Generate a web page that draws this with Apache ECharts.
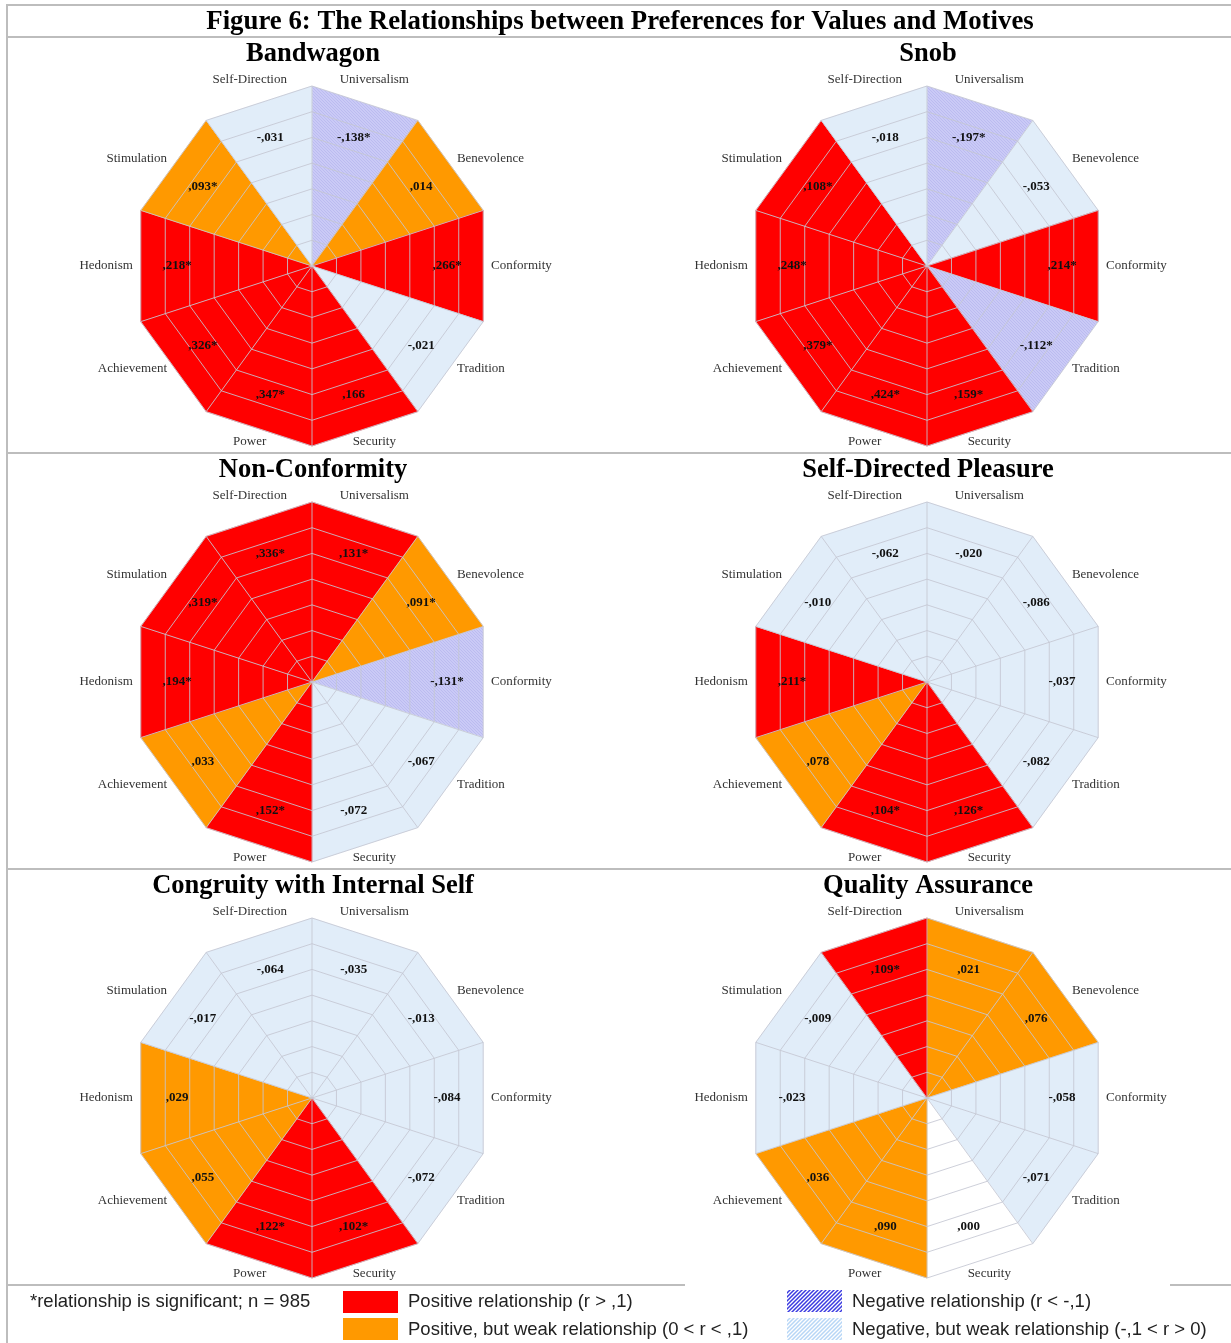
<!DOCTYPE html>
<html><head><meta charset="utf-8">
<script src="https://cdn.jsdelivr.net/npm/echarts@6/dist/echarts.min.js"></script>
<style>html,body{margin:0;padding:0;background:#fff}#c{width:1231px;height:1343px}</style>
</head><body><div id="c"></div>
<script>
// Categories, clockwise from the top vertex
const categories = ['Universalism','Benevolence','Conformity','Tradition','Security','Power','Achievement','Hedonism','Stimulation','Self-Direction'];

const figureTitle = 'Figure 6: The Relationships between Preferences for Values and Motives';
const panelTitles = ['Bandwagon','Snob','Non-Conformity','Self-Directed Pleasure','Congruity with Internal Self','Quality Assurance'];

// correlation values (same order as categories)
const bandwagonValues = [-0.138, 0.014, 0.266, -0.021, 0.166, 0.347, 0.326, 0.218, 0.093, -0.031];
const bandwagonSig    = [1, 0, 1, 0, 0, 1, 1, 1, 1, 0];
const snobValues = [-0.197, -0.053, 0.214, -0.112, 0.159, 0.424, 0.379, 0.248, 0.108, -0.018];
const snobSig    = [1, 0, 1, 1, 1, 1, 1, 1, 1, 0];
const nonConformityValues = [0.131, 0.091, -0.131, -0.067, -0.072, 0.152, 0.033, 0.194, 0.319, 0.336];
const nonConformitySig    = [1, 1, 1, 0, 0, 1, 0, 1, 1, 1];
const selfDirectedPleasureValues = [-0.020, -0.086, -0.037, -0.082, 0.126, 0.104, 0.078, 0.211, -0.010, -0.062];
const selfDirectedPleasureSig    = [0, 0, 0, 0, 1, 1, 0, 1, 0, 0];
const congruityValues = [-0.035, -0.013, -0.084, -0.072, 0.102, 0.122, 0.055, 0.029, -0.017, -0.064];
const congruitySig    = [0, 0, 0, 0, 1, 1, 0, 0, 0, 0];
const qualityAssuranceValues = [0.021, 0.076, -0.058, -0.071, 0.000, 0.090, 0.036, -0.023, -0.009, 0.109];
const qualityAssuranceSig    = [0, 0, 0, 0, 0, 0, 0, 0, 0, 1];

const legendNote = '*relationship is significant; n = 985';
const legendLabels = ['Positive relationship (r > ,1)', 'Positive, but weak relationship (0 < r < ,1)', 'Negative relationship (r < -,1)', 'Negative, but weak relationship (-,1 < r > 0)'];

const panelValues = [bandwagonValues, snobValues, nonConformityValues, selfDirectedPleasureValues, congruityValues, qualityAssuranceValues];
const panelSig = [bandwagonSig, snobSig, nonConformitySig, selfDirectedPleasureSig, congruitySig, qualityAssuranceSig];

// ---------- style / layout ----------
const colX = [312, 927], rowY = [266, 682, 1098], R = 180, ringCount = 7;
const serif = '"Liberation Serif","Times New Roman",serif';
const sans = '"Liberation Sans",Arial,sans-serif';
const RED = '#ff0000', ORANGE = '#ff9900', PALE = '#e1edf9';
const GRID = 'rgba(196,199,210,0.85)';

function hatch(bg, line, size, lw, dir) {
  const c = document.createElement('canvas'); c.width = c.height = size;
  const g = c.getContext('2d');
  if (bg) { g.fillStyle = bg; g.fillRect(0, 0, size, size); }
  g.strokeStyle = line; g.lineWidth = lw; g.beginPath();
  if (dir > 0) {
    g.moveTo(0, size); g.lineTo(size, 0);
    g.moveTo(-1, 1); g.lineTo(1, -1);
    g.moveTo(size - 1, size + 1); g.lineTo(size + 1, size - 1);
  } else {
    g.moveTo(0, 0); g.lineTo(size, size);
    g.moveTo(-1, size - 1); g.lineTo(1, size + 1);
    g.moveTo(size - 1, -1); g.lineTo(size + 1, 1);
  }
  g.stroke();
  return { image: c, repeat: 'repeat' };
}
const LAV = hatch('#cacaf6', '#bbbbf0', 3, 1, -1);
const LEG_DARK = hatch('#ffffff', '#3a3ae0', 4, 1.5, 1);
const LEG_LIGHT = hatch('#ffffff', '#b7d6f6', 4, 1.5, 1);

function fillFor(v) {
  if (v > 0.1) return RED;
  if (v > 0) return ORANGE;
  if (v < -0.1) return LAV;
  if (v < 0) return PALE;
  return '#ffffff';
}
function fmt(v, s) {
  let t = Math.abs(v).toFixed(3).replace(/^0\./, ',');
  return (v < 0 ? '-' : '') + t + (s ? '*' : '');
}

const polar = [], angleAxis = [], radiusAxis = [], series = [], graphics = [];
const n = categories.length;

panelValues.forEach((vals, k) => {
  const cx = colX[k % 2], cy = rowY[Math.floor(k / 2)];
  polar.push({ center: [cx, cy], radius: R });
  angleAxis.push({ polarIndex: k, type: 'value', min: 0, max: n, startAngle: 90, clockwise: true, show: false });
  radiusAxis.push({ polarIndex: k, type: 'value', min: 0, max: 1, show: false });
  const sig = panelSig[k];
  // wedges
  series.push({
    type: 'custom', coordinateSystem: 'polar', polarIndex: k, z: 2, silent: true,
    data: vals.map((v, i) => [i, v]),
    renderItem: (p, api) => {
      const i = api.value(0), v = api.value(1);
      const f = fillFor(v);
      return { type: 'polygon', shape: { points: [api.coord([0, i]), api.coord([1, i]), api.coord([1, i + 1])] },
        style: { fill: f, stroke: typeof f === 'string' ? f : null, lineWidth: 0.5 } };
    }
  });
  // rings
  const rings = []; for (let r = 1; r <= ringCount; r++) rings.push([r]);
  series.push({
    type: 'custom', coordinateSystem: 'polar', polarIndex: k, z: 3, silent: true,
    data: rings,
    renderItem: (p, api) => {
      const fr = api.value(0) / ringCount; const pts = [];
      for (let j = 0; j < n; j++) pts.push(api.coord([fr, j]));
      return { type: 'polygon', shape: { points: pts }, style: { fill: null, stroke: GRID, lineWidth: 1 } };
    }
  });
  // radial lines
  series.push({
    type: 'custom', coordinateSystem: 'polar', polarIndex: k, z: 3, silent: true,
    data: categories.map((c, i) => [i]),
    renderItem: (p, api) => {
      const i = api.value(0); const a = api.coord([0, i]), b = api.coord([1, i]);
      return { type: 'line', shape: { x1: a[0], y1: a[1], x2: b[0], y2: b[1] }, style: { stroke: GRID, lineWidth: 1 } };
    }
  });
  // labels
  series.push({
    type: 'custom', coordinateSystem: 'polar', polarIndex: k, z: 5, silent: true,
    data: vals.map((v, i) => [i, v, sig[i]]),
    renderItem: (p, api) => {
      const i = api.value(0), v = api.value(1), s = api.value(2);
      const c = api.coord([0, 0]);
      const vp = api.coord([0.75, i + 0.5]);
      const np = api.coord([1, i + 0.5]);
      let dx = np[0] - c[0], dy = np[1] - c[1];
      let align, valign, x, y;
      if (Math.abs(dx) / R < 0.35) {
        align = 'center'; valign = dy < 0 ? 'bottom' : 'top';
        x = c[0] + dx * 1.12; y = c[1] + dy * (dy < 0 ? 1.05 : 0.985);
      } else {
        align = dx > 0 ? 'left' : 'right'; valign = 'middle';
        x = c[0] + dx * 0.995; y = c[1] + dy * (dy < 0 ? 1.02 : 0.97);
      }
      return { type: 'group', children: [
        { type: 'text', x: vp[0], y: vp[1], style: { text: fmt(v, s), font: 'bold 13px ' + serif, fill: '#111', align: 'center', verticalAlign: 'middle' } },
        { type: 'text', x: x, y: y, style: { text: categories[i], font: '13px ' + serif, fill: '#333', align: align, verticalAlign: valign } }
      ] };
    }
  });
  graphics.push({ type: 'text', x: cx + 1, y: cy - 212, style: { text: panelTitles[k], font: 'bold 26.5px ' + serif, fill: '#000', align: 'center', verticalAlign: 'middle' } });
});

// frame lines
const LINE = { stroke: '#bdbdbd', lineWidth: 2 };
[5, 37, 453, 869].forEach(y => graphics.push({ type: 'line', shape: { x1: 6, y1: y, x2: 1231, y2: y }, style: LINE }));
graphics.push({ type: 'line', shape: { x1: 6, y1: 1285, x2: 685, y2: 1285 }, style: LINE });
graphics.push({ type: 'line', shape: { x1: 1170, y1: 1285, x2: 1231, y2: 1285 }, style: LINE });
graphics.push({ type: 'line', shape: { x1: 7, y1: 4, x2: 7, y2: 1343 }, style: LINE });
graphics.push({ type: 'text', x: 620, y: 22, style: { text: figureTitle, font: 'bold 26.8px ' + serif, fill: '#000', align: 'center', verticalAlign: 'middle' } });

// legend
const legFont = '18.5px ' + sans;
graphics.push({ type: 'text', x: 30, y: 1302, style: { text: legendNote, font: legFont, fill: '#222', verticalAlign: 'middle' } });
const swatches = [[343, 1291, RED], [343, 1318, ORANGE], [787, 1290, LEG_DARK], [787, 1318, LEG_LIGHT]];
swatches.forEach((s, i) => {
  graphics.push({ type: 'rect', shape: { x: s[0], y: s[1], width: 55, height: 22 }, style: { fill: s[2] } });
  graphics.push({ type: 'text', x: s[0] + 65, y: i % 2 ? 1330 : 1302, style: { text: legendLabels[i], font: legFont, fill: '#222', verticalAlign: 'middle' } });
});

const chart = echarts.init(document.getElementById('c'), null, { renderer: 'canvas' });
chart.setOption({
  backgroundColor: '#fff', animation: false,
  polar, angleAxis, radiusAxis, series,
  graphic: { elements: graphics }
});
</script></body></html>
